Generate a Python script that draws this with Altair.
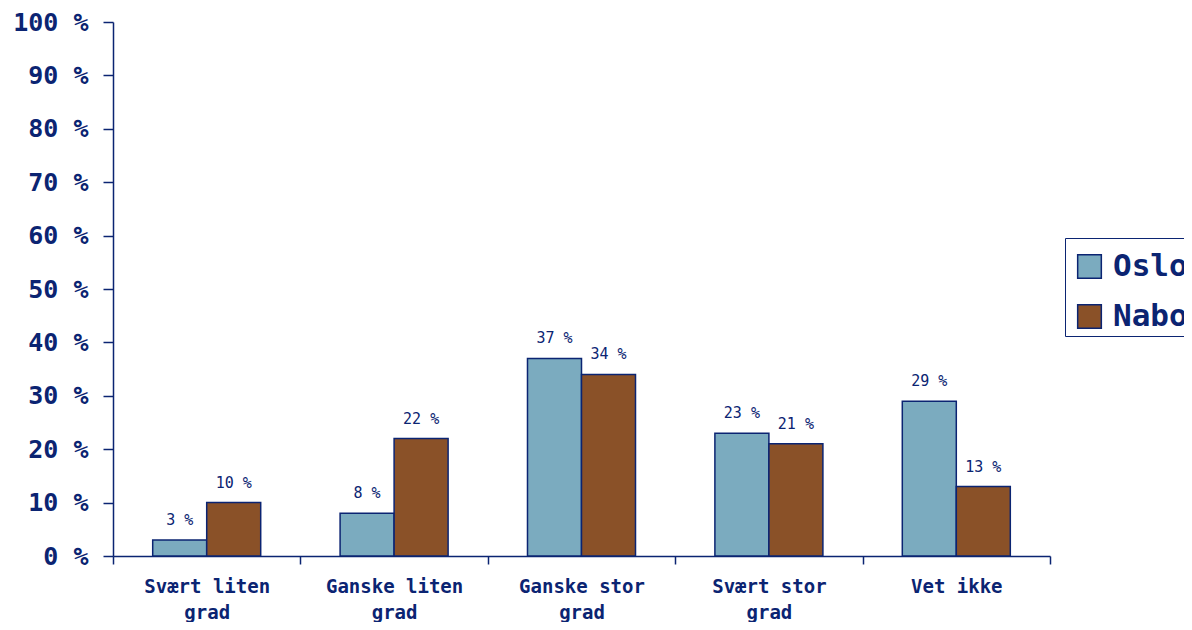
import altair as alt
import pandas as pd

categories = ["Svært liten\ngrad", "Ganske liten\ngrad", "Ganske stor\ngrad", "Svært stor\ngrad", "Vet ikke"]
series = ["Oslo", "Nabokommuner"]
oslo = [3, 8, 37, 23, 29]
nabo = [10, 22, 34, 21, 13]
y_ticks = [0, 10, 20, 30, 40, 50, 60, 70, 80, 90, 100]

NAVY = "#0B2472"
FONT = "DejaVu Sans Mono"

rows = []
for c, a, b in zip(categories, oslo, nabo):
    rows.append({"cat": c, "series": series[0], "value": a, "label": f"{a} %"})
    rows.append({"cat": c, "series": series[1], "value": b, "label": f"{b} %"})
df = pd.DataFrame(rows)

x_enc = alt.X(
    "cat:N",
    sort=categories,
    title=None,
    scale=alt.Scale(paddingInner=0, paddingOuter=0),
    axis=alt.Axis(
        labelAngle=0,
        labelExpr="split(datum.label, '\\n')",
        labelFont=FONT,
        labelFontWeight="bold",
        labelFontSize=19,
        labelColor=NAVY,
        labelLineHeight=26,
        labelBaseline="top",
        labelPadding=13,
        tickBand="extent",
        tickSize=8,
        tickColor=NAVY,
        tickWidth=1.5,
        domainColor=NAVY,
        domainWidth=1.5,
        grid=False,
    ),
)
xoff = alt.XOffset(
    "series:N",
    sort=series,
    scale=alt.Scale(paddingInner=0, paddingOuter=0.735),
)
y_enc = alt.Y(
    "value:Q",
    title=None,
    scale=alt.Scale(domain=[0, 100], nice=False),
    axis=alt.Axis(
        values=y_ticks,
        labelExpr="datum.value + ' %'",
        labelFont=FONT,
        labelFontWeight="bold",
        labelFontSize=25,
        labelColor=NAVY,
        labelPadding=15,
        tickSize=10,
        tickColor=NAVY,
        tickWidth=1.5,
        domainColor=NAVY,
        domainWidth=1.5,
        grid=False,
    ),
)

bars = alt.Chart(df).mark_bar(stroke=NAVY, strokeWidth=1.5).encode(
    x=x_enc,
    xOffset=xoff,
    y=y_enc,
    color=alt.Color(
        "series:N",
        sort=series,
        scale=alt.Scale(domain=series, range=["#7BABBF", "#8A5128"]),
        legend=alt.Legend(
            title=" ",
            titleFontSize=6,
            titlePadding=3,
            orient="none",
            legendX=952,
            legendY=216,
            symbolType="square",
            symbolSize=560,
            symbolStrokeColor=NAVY,
            symbolStrokeWidth=1.5,
            symbolOpacity=1,
            symbolOffset=5,
            labelFont=FONT,
            labelFontWeight="bold",
            labelFontSize=31,
            labelColor=NAVY,
            labelOffset=8,
            labelLimit=0,
            rowPadding=18,
            padding=4,
            strokeColor=NAVY,
            fillColor="white",
        ),
    ),
)

text = alt.Chart(df).mark_text(
    font=FONT, fontSize=15, color=NAVY, baseline="alphabetic", dy=-15
).encode(
    x=alt.X("cat:N", sort=categories),
    xOffset=xoff,
    y="value:Q",
    text="label:N",
)

chart = (
    alt.layer(bars, text)
    .properties(
        width=937,
        height=534,
        autosize=alt.AutoSizeParams(type="none"),
        padding={"left": 105, "top": 14, "right": 134, "bottom": 66},
        background="white",
    )
    .configure_view(stroke=None)
)

chart.save("out.html", embed_options={"renderer": "svg", "actions": False})
